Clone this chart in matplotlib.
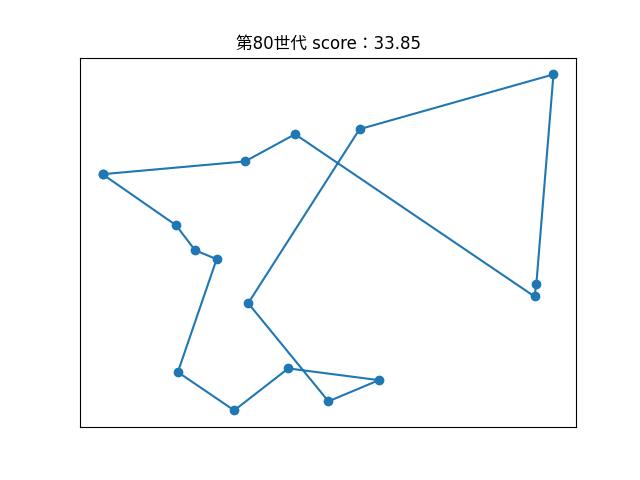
import matplotlib
matplotlib.use("Agg")
import matplotlib.pyplot as plt

plt.rcParams['font.family'] = ['DejaVu Sans', 'Noto Sans CJK JP']

title = "第80世代 score：33.85"
# tour order (closed loop)
xs = [0.0, 31.6, 42.7, 95.8, 96.2, 100.0, 57.0, 32.3, 50.1, 61.3, 41.2, 29.2, 16.7, 25.3, 20.5, 16.3]
ys = [70.3, 74.1, 82.2, 33.9, 37.5, 100.0, 83.7, 31.9, 2.7, 9.0, 12.5, 0.0, 11.4, 45.0, 47.7, 55.1]

fig = plt.figure(figsize=(6.4, 4.8), dpi=100)
ax = fig.add_subplot(111)
ax.plot(xs + [xs[0]], ys + [ys[0]], marker='o', linestyle='-', color='#1f77b4')
ax.set_xticks([])
ax.set_yticks([])
ax.set_title(title)
fig.savefig("out.png")
